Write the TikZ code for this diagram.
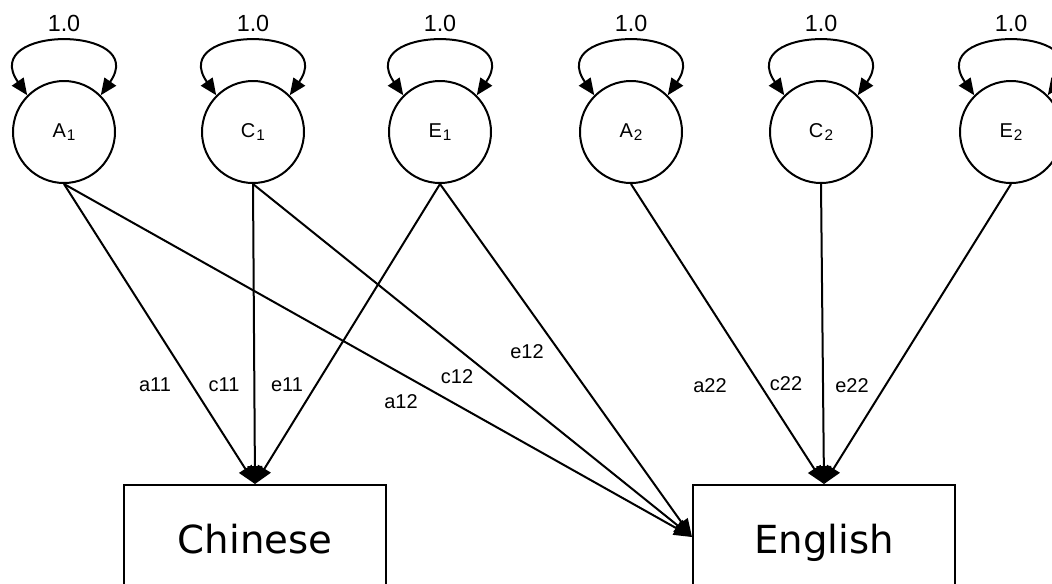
\documentclass[tikz,border=0pt]{standalone}
\usepackage{fontspec}
\setmainfont{Liberation Sans}
\newfontfamily\boxfont{DejaVu Sans}
\usetikzlibrary{arrows.meta,calc}
\newcommand{\lsub}[2]{#1\kern0.8pt\raisebox{-2pt}{\fontsize{11.5}{13}\selectfont #2}}
\begin{document}
\begin{tikzpicture}[x=0.75pt,y=0.75pt,
  latent/.style={draw, circle, line width=1.5pt, minimum size=76.5pt, inner sep=0pt, font=\fontsize{15}{18}\selectfont},
  observed/.style={draw, rectangle, line width=1.5pt, minimum width=196.5pt, minimum height=78pt, inner sep=0pt, text height=28pt, text depth=4pt, font=\boxfont\fontsize{29}{34}\selectfont},
  path/.style={line width=1.5pt, -{Triangle[length=13.5pt,width=11pt]}},
  loop/.style={line width=1.5pt, {Triangle[length=12.5pt,width=10.5pt]}-{Triangle[length=12.5pt,width=10.5pt]}},
  varlab/.style={font=\fontsize{17.5}{20}\selectfont, inner sep=0pt},
  coef/.style={font=\fontsize{15}{18}\selectfont, inner sep=0pt}]
\useasboundingbox (0,-583) rectangle (1052,0);
\clip (0,-583) rectangle (1052,0);
% latent factors
\node[latent] (A1) at (64,-132) {\lsub{A}{1}};
\node[latent] (C1) at (253,-132) {\lsub{C}{1}};
\node[latent] (E1) at (440,-132) {\lsub{E}{1}};
\node[latent] (A2) at (631,-132) {\lsub{A}{2}};
\node[latent] (C2) at (821,-132) {\lsub{C}{2}};
\node[latent] (E2) at (1011,-132) {\lsub{E}{2}};
% observed
\node[observed] (CH) at (255,-537) {Chinese};
\node[observed] (EN) at (824,-537) {English};
% variance loops
\foreach \n in {A1,C1,E1,A2,C2,E2}{
  \draw[loop] (\n.135) .. controls +(125:86) and +(55:86) .. (\n.45);
  \node[varlab] (v\n) at ($(\n)+(0,109)$) {1.0};
}
% paths
\draw[path] (A1.south) -- (CH.north);
\draw[path] (C1.south) -- (CH.north);
\draw[path] (E1.south) -- (CH.north);
\draw[path] (A1.south) -- (EN.west);
\draw[path] (C1.south) -- (EN.west);
\draw[path] (E1.south) -- (EN.west);
\draw[path] (A2.south) -- (EN.north);
\draw[path] (C2.south) -- (EN.north);
\draw[path] (E2.south) -- (EN.north);
% labels
\node[coef] (la11) at (155,-385) {a11};
\node[coef] (lc11) at (224,-385) {c11};
\node[coef] (le11) at (287,-385) {e11};
\node[coef] (la12) at (401,-402) {a12};
\node[coef] (lc12) at (457,-377) {c12};
\node[coef] (le12) at (527,-352) {e12};
\node[coef] (la22) at (710,-386) {a22};
\node[coef] (lc22) at (786,-384) {c22};
\node[coef] (le22) at (852,-386) {e22};
\end{tikzpicture}
\end{document}
